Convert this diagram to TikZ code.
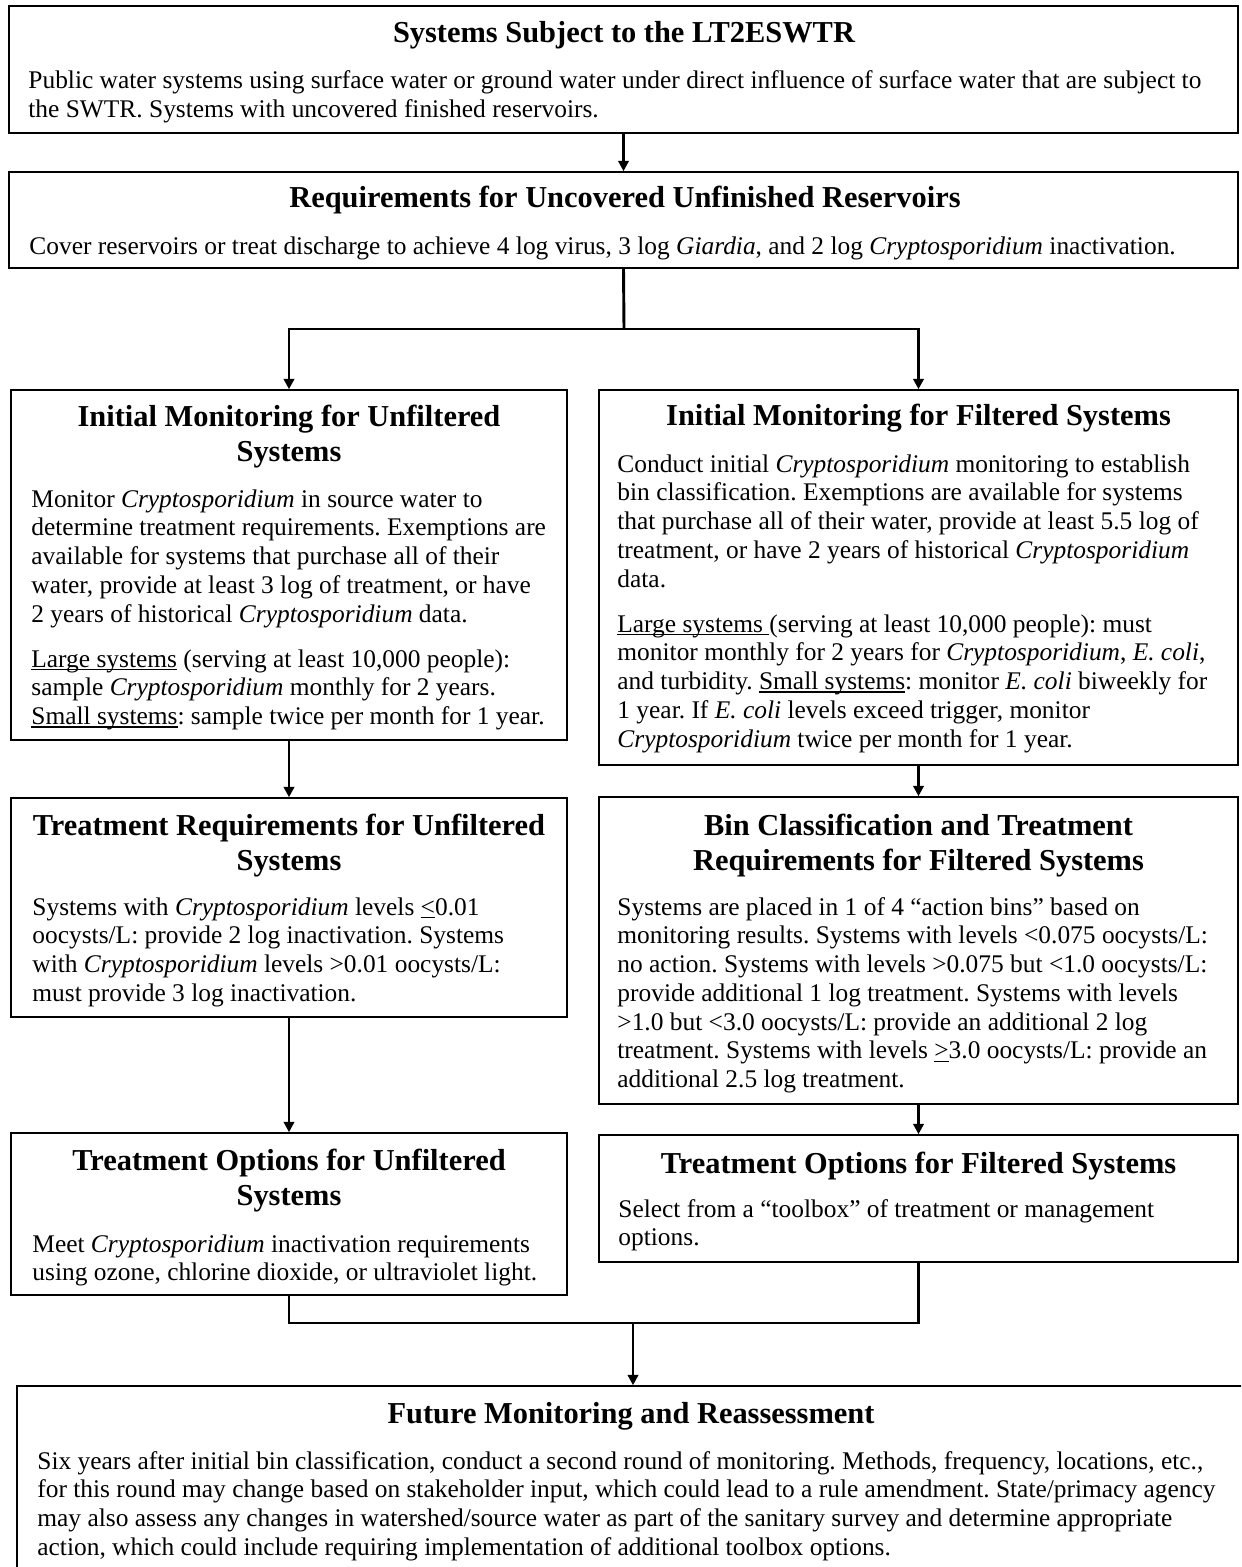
\documentclass[tikz,border=0pt]{standalone}
\usepackage{fontspec}
\setmainfont{Liberation Serif}
\usetikzlibrary{arrows.meta,fit}
\newcommand\crypto{\textit{Cryptosporidium}}
\newcommand\ecoli{\textit{E. coli}}
\newcommand\bodyfont{\fontsize{12.2}{13.8}\selectfont\frenchspacing}
\newcommand\titlefont{\fontsize{14.6}{16.8}\selectfont\bfseries}
\newsavebox\undlbox
\newcommand\undl[1]{\sbox\undlbox{#1}\rlap{\rule[-1.5pt]{\wd\undlbox}{0.6pt}}\usebox\undlbox}
\begin{document}
\begin{tikzpicture}[x=0.48pt,y=-0.48pt,
  box/.style={draw, line width=0.75pt, inner sep=0pt},
  body/.style={anchor=base west, inner sep=0pt, font=\bodyfont},
  ttl/.style={anchor=base, inner sep=0pt, font=\titlefont},
  conn/.style={line width=1.4pt, line join=miter},
  arr/.style={line width=1.4pt, line join=miter, -{Triangle[width=5pt,length=5pt]}}]
\useasboundingbox (0,0) rectangle (1241,1567);
\clip (0,0) rectangle (1241,1567);

% boxes
\node[box, fit={(9,6) (1238,133)}] (b1) {};
\node[box, fit={(9,172) (1238,268)}] (b2) {};
\node[box, fit={(11,390) (567,740)}] (l1) {};
\node[box, fit={(599,390) (1238,765)}] (r1) {};
\node[box, fit={(11,798) (567,1017)}] (l2) {};
\node[box, fit={(599,797) (1238,1104)}] (r2) {};
\node[box, fit={(11,1133) (567,1295)}] (l3) {};
\node[box, fit={(599,1135) (1238,1262)}] (r3) {};
\node[box, fit={(17,1386) (1249,1620)}] (fin) {};

% texts
\node[ttl] (b1t) at (624,43) {Systems Subject to the LT2ESWTR};
\node[body] (b1x) at (28,89) {\begin{tabular}[t]{@{}l@{}}Public water systems using surface water or ground water under direct influence of surface water that are subject to\\
the SWTR. Systems with uncovered finished reservoirs.\end{tabular}};

\node[ttl] (b2t) at (625,208) {Requirements for Uncovered Unfinished Reservoirs};
\node[body] (b2x) at (29,255) {Cover reservoirs or treat discharge to achieve 4 log virus, 3 log \textit{Giardia}, and 2 log \crypto{} inactivation.};

\node[ttl] (l1t) at (289,426) {\begin{tabular}[t]{@{}c@{}}Initial Monitoring for Unfiltered\\ Systems\end{tabular}};
\node[body] (l1x) at (31,507) {\begin{tabular}[t]{@{}l@{}}Monitor \crypto{} in source water to\\
determine treatment requirements. Exemptions are\\
available for systems that purchase all of their\\
water, provide at least 3 log of treatment, or have\\
2 years of historical \crypto{} data.\\[7.8pt]
\undl{Large systems} (serving at least 10,000 people):\\
sample \crypto{} monthly for 2 years.\\
\undl{Small systems}: sample twice per month for 1 year.\end{tabular}};

\node[ttl] (r1t) at (918.5,425) {Initial Monitoring for Filtered Systems};
\node[body] (r1x) at (617,472) {\begin{tabular}[t]{@{}l@{}}Conduct initial \crypto{} monitoring to establish\\
bin classification. Exemptions are available for systems\\
that purchase all of their water, provide at least 5.5 log of\\
treatment, or have 2 years of historical \crypto\\
data.\\[7.8pt]
\undl{Large systems\ }(serving at least 10,000 people): must\\
monitor monthly for 2 years for \crypto, \ecoli,\\
and turbidity. \undl{Small systems}: monitor \ecoli{} biweekly for\\
1 year. If \ecoli{} levels exceed trigger, monitor\\
\crypto{} twice per month for 1 year.\end{tabular}};

\node[ttl] (l2t) at (289,835) {\begin{tabular}[t]{@{}c@{}}Treatment Requirements for Unfiltered\\ Systems\end{tabular}};
\node[body] (l2x) at (32,915) {\begin{tabular}[t]{@{}l@{}}Systems with \crypto{} levels \undl{<}0.01\\
oocysts/L: provide 2 log inactivation. Systems\\
with \crypto{} levels >0.01 oocysts/L:\\
must provide 3 log inactivation.\end{tabular}};

\node[ttl] (r2t) at (918.5,835) {\begin{tabular}[t]{@{}c@{}}Bin Classification and Treatment\\ Requirements for Filtered Systems\end{tabular}};
\node[body] (r2x) at (617,915) {\begin{tabular}[t]{@{}l@{}}Systems are placed in 1 of 4 “action bins” based on\\
monitoring results. Systems with levels <0.075 oocysts/L:\\
no action. Systems with levels >0.075 but <1.0 oocysts/L:\\
provide additional 1 log treatment. Systems with levels\\
>1.0 but <3.0 oocysts/L: provide an additional 2 log\\
treatment. Systems with levels \undl{>}3.0 oocysts/L: provide an\\
additional 2.5 log treatment.\end{tabular}};

\node[ttl] (l3t) at (289,1170) {\begin{tabular}[t]{@{}c@{}}Treatment Options for Unfiltered\\ Systems\end{tabular}};
\node[body] (l3x) at (32,1252) {\begin{tabular}[t]{@{}l@{}}Meet \crypto{} inactivation requirements\\
using ozone, chlorine dioxide, or ultraviolet light.\end{tabular}};

\node[ttl] (r3t) at (918.5,1173) {Treatment Options for Filtered Systems};
\node[body] (r3x) at (618,1217) {\begin{tabular}[t]{@{}l@{}}Select from a “toolbox” of treatment or management\\
options.\end{tabular}};

\node[ttl] (fint) at (631,1423) {Future Monitoring and Reassessment};
\node[body] (finx) at (37,1469) {\begin{tabular}[t]{@{}l@{}}Six years after initial bin classification, conduct a second round of monitoring. Methods, frequency, locations, etc.,\\
for this round may change based on stakeholder input, which could lead to a rule amendment. State/primacy agency\\
may also assess any changes in watershed/source water as part of the sanitary survey and determine appropriate\\
action, which could include requiring implementation of additional toolbox options.\end{tabular}};

% connectors
\coordinate (j1) at (624,329);
\coordinate (j2) at (633,1323);
\draw[arr, line width=1.2pt] (b1.south) -- (b2.north);
\draw[conn] (b2.south) -- (j1);
\draw[arr] (j1) -| (l1.north);
\draw[arr] (j1) -| (r1.north);
\draw[arr] (l1.south) -- (l2.north);
\draw[arr] (l2.south) -- (l3.north);
\draw[arr] (r1.south) -- (r2.north);
\draw[arr] (r2.south) -- (r3.north);
\draw[conn] (l3.south) |- (j2) -| (r3.south);
\draw[arr] (j2) -- (fin.north);
\end{tikzpicture}
\end{document}
